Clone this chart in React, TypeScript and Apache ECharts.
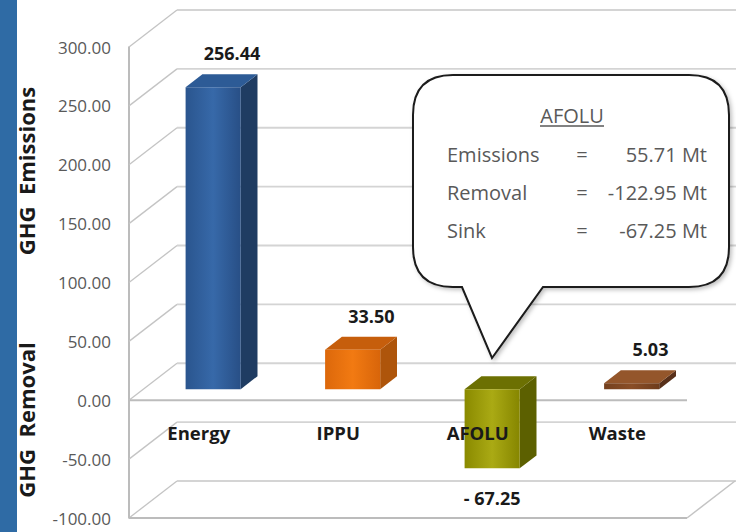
import React, { useEffect, useRef } from "react";
import * as echarts from "echarts";

const categories = ["Energy", "IPPU", "AFOLU", "Waste"];
const values = [256.44, 33.5, -67.25, 5.03];
const yTicks = [-100, -50, 0, 50, 100, 150, 200, 250, 300];
const yMin = -100;
const yMax = 300;
const yStep = 50;
const calloutTitle = "AFOLU";
const calloutLabels = ["Emissions", "Removal", "Sink"];
const calloutValues = ["55.71 Mt", "-122.95 Mt", "-67.25 Mt"];
const sideTitles = ["GHG  Emissions", "GHG  Removal"];

const barFront = [
  ["#2A558E", "#3769A9", "#284F86"],
  ["#DC680B", "#F27A12", "#D8650A"],
  ["#8A8A00", "#AAAA14", "#868600"],
  ["#74401E", "#8A4E26", "#6E3C1C"],
];
const barSide = ["#1F3C62", "#AE550B", "#5C6000", "#58301A"];
const barTop = ["#2D5B96", "#C65E0C", "#6C7002", "#94562B"];

const FONT = "'Open Sans', 'DejaVu Sans', sans-serif";
const DX = 48;
const DY = -37;
const BAR_FRONT = 0.3;
const BAR_BACK = 0.65;
const BAR_WIDTH = 0.395;
const CAT_LABEL_OFFSET = 32;

const BUBBLE_PATH =
  "M40 0 L276 0 Q316 0 316 40 L316 172 Q316 212 276 212 L130 212 L79 283 L49 212 L40 212 Q0 212 0 172 L0 40 Q0 0 40 0 Z";
echarts.graphic.registerShape("calloutBubble", echarts.graphic.extendPath(BUBBLE_PATH, {}));

const fmtVal = (v: number) => (v < 0 ? "- " + Math.abs(v).toFixed(2) : v.toFixed(2));

export default function App() {
  const ref = useRef<HTMLDivElement>(null);

  useEffect(() => {
    if (!ref.current) return;
    const chart = echarts.init(ref.current, undefined, { renderer: "svg" });

    const frameSeries = {
      type: "custom",
      z: 1,
      clip: false,
      silent: true,
      data: yTicks.map((t) => [0, t]),
      encode: { x: 0, y: 1 },
      renderItem: (params: any, api: any) => {
        const t = api.value(1);
        const cs = params.coordSys;
        const y = api.coord([0, t])[1];
        const L = cs.x;
        const R = cs.x + cs.width;
        const W = api.getWidth();
        const children: any[] = [
          { type: "line", shape: { x1: L, y1: y, x2: L + DX, y2: y + DY }, style: { stroke: "#c4c4c4", lineWidth: 1.3 } },
          { type: "line", shape: { x1: L + DX, y1: y + DY, x2: W, y2: y + DY }, style: { stroke: "#d4d4d4", lineWidth: 1.8 } },
        ];
        if (t === 0 || t === yMin) {
          children.push({ type: "line", shape: { x1: L, y1: y, x2: R, y2: y }, style: { stroke: "#bcbcbc", lineWidth: 2 } });
        }
        if (t === yMin) {
          children.push({ type: "line", shape: { x1: R, y1: y, x2: R + DX, y2: y + DY }, style: { stroke: "#c4c4c4", lineWidth: 1.5 } });
        }
        return { type: "group", children };
      },
    };

    const barSeries = {
      type: "custom",
      z: 3,
      clip: false,
      data: values.map((v, i) => [i, v]),
      encode: { x: 0, y: 1 },
      renderItem: (params: any, api: any) => {
        const i = api.value(0);
        const v = api.value(1);
        const base = api.coord([i, 0]);
        const tip = api.coord([i, v]);
        const band = api.size([1, 0])[0];
        const fx = BAR_FRONT * DX;
        const fy = BAR_FRONT * DY;
        const ddx = (BAR_BACK - BAR_FRONT) * DX;
        const ddy = (BAR_BACK - BAR_FRONT) * DY;
        const cx = base[0] + fx;
        const hw = (band * BAR_WIDTH) / 2;
        const l = cx - hw;
        const r = cx + hw;
        const y0 = base[1] + fy;
        const y1 = tip[1] + fy;
        const top = Math.min(y0, y1);
        const bottom = Math.max(y0, y1);
        const idx = params.dataIndex;
        const fc = barFront[idx];
        const children: any[] = [
          {
            type: "polygon",
            shape: { points: [[r, top], [r + ddx, top + ddy], [r + ddx, bottom + ddy], [r, bottom]] },
            style: { fill: barSide[idx] },
          },
          {
            type: "polygon",
            shape: { points: [[l, top], [l + ddx, top + ddy], [r + ddx, top + ddy], [r, top]] },
            style: { fill: barTop[idx] },
          },
          {
            type: "rect",
            shape: { x: l, y: top, width: r - l, height: bottom - top },
            style: {
              fill: new echarts.graphic.LinearGradient(0, 0, 1, 0, [
                { offset: 0, color: fc[0] },
                { offset: 0.5, color: fc[1] },
                { offset: 1, color: fc[2] },
              ]),
            },
          },
        ];
        const label =
          v >= 0
            ? { x: cx + ddx + 2, y: top + ddy - 21 }
            : { x: cx, y: bottom + 30 };
        children.push({
          type: "text",
          style: {
            text: fmtVal(v),
            x: label.x,
            y: label.y,
            align: "center",
            verticalAlign: "middle",
            fontFamily: FONT,
            fontSize: 18,
            fontWeight: "bold",
            fill: "#1a1a1a",
          },
        });
        children.push({
          type: "text",
          style: {
            text: categories[idx],
            x: base[0],
            y: base[1] + CAT_LABEL_OFFSET,
            align: "center",
            verticalAlign: "middle",
            fontFamily: FONT,
            fontSize: 18.5,
            fontWeight: "bold",
            fill: "#1a1a1a",
          },
        });
        return { type: "group", children };
      },
    };

    const rowYs = [154, 192, 230];
    const graphic: any[] = [
      { type: "rect", shape: { x: 0, y: 0, width: 17, height: 532 }, style: { fill: "#2F6BA5" }, z: 50 },
      {
        type: "text",
        x: 26,
        y: 171,
        rotation: Math.PI / 2,
        style: { text: sideTitles[0], align: "center", verticalAlign: "middle", fontFamily: FONT, fontSize: 22, fontWeight: "bold", fill: "#1a1a1a" },
        z: 50,
      },
      {
        type: "text",
        x: 26,
        y: 420,
        rotation: Math.PI / 2,
        style: { text: sideTitles[1], align: "center", verticalAlign: "middle", fontFamily: FONT, fontSize: 22, fontWeight: "bold", fill: "#1a1a1a" },
        z: 50,
      },
      {
        type: "calloutBubble",
        x: 413,
        y: 75,
        style: { fill: "#ffffff", stroke: "#1a1a1a", lineWidth: 2, shadowBlur: 4, shadowOffsetX: 2, shadowOffsetY: 2, shadowColor: "rgba(0,0,0,0.25)" },
        z: 60,
      },
      {
        type: "text",
        x: 572,
        y: 115,
        style: { text: calloutTitle, align: "center", verticalAlign: "middle", fontFamily: FONT, fontSize: 20, fill: "#595959" },
        z: 61,
      },
      { type: "line", shape: { x1: 540, y1: 126, x2: 604, y2: 126 }, style: { stroke: "#595959", lineWidth: 1.3 }, z: 61 },
    ];
    calloutLabels.forEach((lab, k) => {
      graphic.push({
        type: "text",
        x: 447,
        y: rowYs[k],
        style: { text: lab, align: "left", verticalAlign: "middle", fontFamily: FONT, fontSize: 20, fill: "#595959" },
        z: 61,
      });
      graphic.push({
        type: "text",
        x: 582,
        y: rowYs[k],
        style: { text: "=", align: "center", verticalAlign: "middle", fontFamily: FONT, fontSize: 20, fill: "#595959" },
        z: 61,
      });
      graphic.push({
        type: "text",
        x: 707,
        y: rowYs[k],
        style: { text: calloutValues[k], align: "right", verticalAlign: "middle", fontFamily: FONT, fontSize: 20, fill: "#595959" },
        z: 61,
      });
    });

    chart.setOption({
      animation: false,
      backgroundColor: "#ffffff",
      grid: { left: 129, right: 49, top: 47, bottom: 14, containLabel: false, outerBoundsMode: "none" },
      xAxis: {
        type: "category",
        data: categories,
        axisLine: { show: false },
        axisTick: { show: false },
        splitLine: { show: false },
        axisLabel: { show: false },
      },
      yAxis: {
        type: "value",
        min: yMin,
        max: yMax,
        interval: yStep,
        axisLine: { show: true, lineStyle: { color: "#a6a6a6", width: 1.5 } },
        axisTick: { show: false },
        splitLine: { show: false },
        axisLabel: { margin: 18, fontFamily: FONT, fontSize: 17, color: "#595959", formatter: (v: number) => v.toFixed(2) },
      },
      series: [frameSeries, barSeries],
      graphic,
    } as any);

    return () => chart.dispose();
  }, []);

  return <div ref={ref} style={{ position: "absolute", left: 0, top: 0, width: 736, height: 532 }} />;
}
